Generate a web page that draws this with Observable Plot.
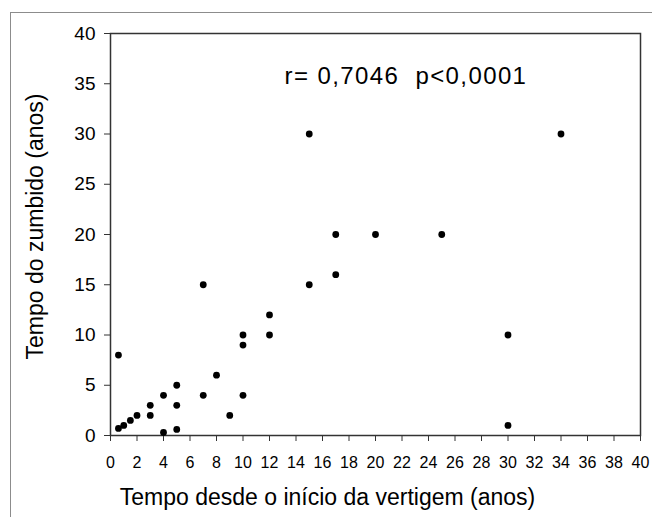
<!DOCTYPE html>
<html>
<head>
<meta charset="utf-8">
<script src="https://cdn.jsdelivr.net/npm/d3@7"></script>
<script src="https://cdn.jsdelivr.net/npm/@observablehq/plot@0.6"></script>
<style>
  html, body { margin: 0; padding: 0; background: #fff; }
  #wrap { position: relative; width: 652px; height: 517px; overflow: hidden; }
  #frame { position: absolute; left: 10px; top: 12px; right: -2px; bottom: -2px;
           border-top: 1.5px solid #8c8c8c; border-left: 1.5px solid #8c8c8c; pointer-events: none; }
  svg { font-family: "Liberation Sans", Arial, sans-serif; }
</style>
</head>
<body>
<div id="wrap"><div id="frame"></div></div>
<script>
// Data
const vertigem = [0.6, 0.6, 1, 1.5, 2, 3, 3, 4, 4, 5, 5, 5, 7, 7, 8, 9, 10, 10, 10, 12, 12, 15, 15, 17, 17, 20, 25, 30, 30, 34];
const zumbido  = [8, 0.7, 1, 1.5, 2, 3, 2, 4, 0.3, 5, 3, 0.6, 4, 15, 6, 2, 4, 9, 10, 10, 12, 15, 30, 20, 16, 20, 20, 10, 1, 30];
const xTicks = d3.range(0, 41, 2);
const yTicks = d3.range(0, 41, 5);
const xTitle = ["Tempo desde o início da vertigem (anos)"];
const yTitle = ["Tempo do zumbido (anos)"];
const annotation = ["r= 0,7046  p<0,0001"];
const annotationPos = [22.3, 35.7];

const points = vertigem.map((v, i) => ({x: v, y: zumbido[i]}));

const chart = Plot.plot({
  width: 652,
  height: 517,
  marginLeft: 110,
  marginRight: 12,
  marginTop: 33,
  marginBottom: 82,
  x: {domain: [0, 40], ticks: xTicks},
  y: {domain: [0, 40], ticks: yTicks},
  marks: [
    Plot.frame({stroke: "#333", strokeWidth: 1.5}),
    Plot.axisX({ticks: xTicks, tickSize: 6, tickPadding: 15, fontSize: 16, stroke: "#333", label: null}),
    Plot.axisY({ticks: yTicks, tickSize: 6, tickPadding: 9, fontSize: 19, stroke: "#333", label: null}),
    Plot.text(xTitle, {frameAnchor: "bottom", textAnchor: "middle", dx: -48, dy: 69, text: d => d, fontSize: 23, fill: "black"}),
    Plot.text(yTitle, {frameAnchor: "left", textAnchor: "middle", dx: -75, dy: -8, rotate: -90, text: d => d, fontSize: 23, fill: "black"}),
    Plot.dot(points, {x: "x", y: "y", r: 3.4, fill: "black", stroke: "none"}),
    Plot.text(annotation, {x: () => annotationPos[0], y: () => annotationPos[1], text: d => d,
                           fontSize: 24, fill: "black"})
  ]
});
d3.select(chart).selectAll("text").filter(function() { return this.textContent === annotation[0]; })
  .style("letter-spacing", "1.4px");
document.getElementById("wrap").prepend(chart);
</script>
</body>
</html>
